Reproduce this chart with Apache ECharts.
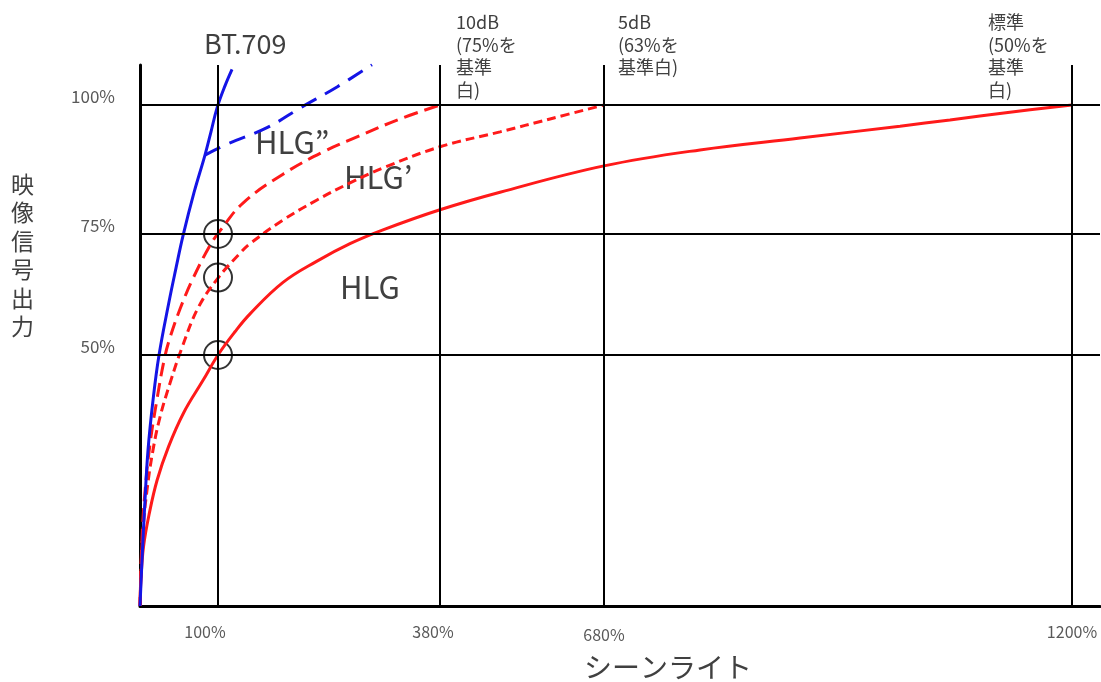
<!DOCTYPE html>
<html>
<head>
<meta charset="utf-8">
<script src="https://cdn.jsdelivr.net/npm/echarts@6/dist/echarts.min.js"></script>
<style>
  html, body { margin: 0; padding: 0; background: #fff; }
  #chart { width: 1101px; height: 682px; }
</style>
</head>
<body>
<div id="chart"></div>
<script>
// シーンライト(%) の目盛りと、図上の位置 (非線形の目盛り)
var xTicks = [100, 380, 680, 1200];
var xTickLabels = ['100%', '380%', '680%', '1200%'];
var xKnots = [0, 100, 380, 680, 1200];
var xKnotPos = [0, 78, 300, 464, 932];
// 映像信号出力(%) の目盛り
var yTicks = [50, 75, 100];
var yTickLabels = ['50%', '75%', '100%'];
var yKnots = [0, 50, 75, 100];
var yKnotPos = [0, 251, 372, 501];

// 各カーブ (シーンライト%, 信号出力%)
var hlgS = [0, 1.2, 4.5, 12, 22, 36.5, 56, 81, 100, 121.4, 140.4, 182, 224.9, 266.5, 308.1, 380, 489.8, 680, 786.7, 897.8, 1008.9, 1064.4, 1131, 1200];
var hlgV = [0, 5.2, 11.8, 18.5, 25.1, 31.7, 38.5, 45.0, 50, 54.8, 58.5, 65.0, 69.4, 73.0, 75.8, 79.7, 83.1, 88.2, 91.3, 93.6, 95.9, 97.1, 98.6, 100];

var hlg1S = [0, 1.3, 3.8, 9.0, 16.7, 25.6, 38.5, 53.8, 74.4, 100, 127.7, 140.4, 182, 224.9, 266.5, 308.1, 380, 489.8, 581.3, 680];
var hlg1V = [0, 7.2, 15.1, 23.1, 31.1, 37.6, 44.4, 51.5, 59.7, 65.9, 71.0, 73.0, 77.7, 81.6, 84.9, 87.8, 91.9, 94.8, 97.3, 100];

var hlg2S = [0, 2.6, 6.4, 12.8, 21.8, 31.6, 38.5, 51.3, 67.9, 89.7, 102.5, 131.5, 182, 232.4, 275.3, 329.5, 380];
var hlg2V = [0, 13.6, 22.8, 32.2, 41.2, 49.5, 53.6, 59.5, 65.8, 72.6, 75.6, 81.0, 86.6, 90.9, 93.8, 97.3, 100];

var bt709S = [0, 2.6, 6.4, 10.3, 16.7, 24.4, 37.2, 46.2, 55.1, 69.2, 83.3, 91.0, 98.7, 108.8, 117.7];
var bt709V = [0, 9.2, 21.1, 31.1, 41.0, 50, 61.0, 68.0, 74.6, 83.0, 90.3, 94.8, 99.4, 103.7, 106.9];

var kneeS = [83.3, 111.4, 161.8, 203.4, 250.1, 294.2];
var kneeV = [90.3, 92.4, 95.6, 99.4, 103.5, 107.8];

var circleS = [100, 100, 100];
var circleV = [75, 66, 50];

// 区分線形の目盛り変換
function piece(v, knots, pos) {
    var n = knots.length;
    for (var i = 1; i < n; i++) {
        if (v <= knots[i] || i == n - 1) {
            return pos[i - 1] + (v - knots[i - 1]) / (knots[i] - knots[i - 1]) * (pos[i] - pos[i - 1]);
        }
    }
}
function toX(s) { return piece(s, xKnots, xKnotPos); }
function toY(v) { return piece(v, yKnots, yKnotPos); }

function pts(sArr, vArr) {
    var out = [];
    for (var i = 0; i < sArr.length; i++) out.push([toX(sArr[i]), toY(vArr[i])]);
    return out;
}
function indexOf(val, ticks, fn) {
    for (var i = 0; i < ticks.length; i++) {
        if (Math.abs(fn(ticks[i]) - val) < 0.5) return i;
    }
    return -1;
}

var myChart = echarts.init(document.getElementById('chart'));
var red = '#ff1a1a';
var blue = '#1414e6';
var textColor = '#404040';
var font = '"Noto Sans CJK JP", "Noto Sans", sans-serif';
// x目盛りラベルの微調整用スタイル
var xRich = ['a', 'b', 'c', 'd'];

var option = {
    animation: false,
    grid: { left: 140, top: 65, width: 960, height: 541 },
    xAxis: {
        type: 'value', min: 0, max: 960,
        axisLine: { show: true, lineStyle: { color: '#000', width: 3 } },
        axisTick: { show: false },
        splitLine: { show: false },
        axisLabel: {
            customValues: xTicks.map(toX),
            margin: 18,
            color: '#595959', fontSize: 16, fontFamily: font,
            rich: {
                a: { color: '#595959', fontSize: 16, fontFamily: font, padding: [0, 26, 0, 0] },
                b: { color: '#595959', fontSize: 16, fontFamily: font, padding: [0, 14, 0, 0] },
                c: { color: '#595959', fontSize: 16, fontFamily: font, padding: [3, 0, 0, 0] },
                d: { color: '#595959', fontSize: 16, fontFamily: font }
            },
            formatter: function (val) {
                var i = indexOf(val, xTicks, toX);
                return i < 0 ? '' : '{' + xRich[i] + '|' + xTickLabels[i] + '}';
            }
        }
    },
    yAxis: {
        type: 'value', min: 0, max: 541,
        axisLine: { show: true, lineStyle: { color: '#000', width: 3 } },
        axisTick: { show: false },
        splitLine: { show: false },
        axisLabel: {
            customValues: yTicks.map(toY),
            margin: 25,
            verticalAlign: 'bottom',
            color: '#595959', fontSize: 17, fontFamily: font,
            formatter: function (val) {
                var i = indexOf(val, yTicks, toY);
                return i < 0 ? '' : yTickLabels[i];
            }
        }
    },
    graphic: [
        { type: 'text', left: 11, top: 170, style: { text: '映\n像\n信\n号\n出\n力', fill: textColor, font: '23px ' + font, lineHeight: 28.5 } },
        { type: 'text', left: 584, top: 653, style: { text: 'シーンライト', fill: textColor, font: '28px ' + font } },
        { type: 'text', left: 204, top: 30, style: { text: 'BT.709', fill: textColor, font: '27px ' + font } },
        { type: 'text', left: 255, top: 127, style: { text: 'HLG”', fill: textColor, font: '31px ' + font } },
        { type: 'text', left: 344, top: 162, style: { text: 'HLG’', fill: textColor, font: '31px ' + font } },
        { type: 'text', left: 340, top: 272, style: { text: 'HLG', fill: textColor, font: '31px ' + font } },
        { type: 'text', left: 456, top: 11, style: { text: '10dB\n(75%を\n基準\n白)', fill: textColor, font: '18px ' + font, lineHeight: 22.5 } },
        { type: 'text', left: 618, top: 11, style: { text: '5dB\n(63%を\n基準白)', fill: textColor, font: '18px ' + font, lineHeight: 22.5 } },
        { type: 'text', left: 988, top: 11, style: { text: '標準\n(50%を\n基準\n白)', fill: textColor, font: '18px ' + font, lineHeight: 22.5 } }
    ],
    series: [
        {
            name: 'grid', type: 'line', data: [], silent: true,
            markLine: {
                silent: true, symbol: 'none', label: { show: false },
                lineStyle: { color: '#000', width: 2, type: 'solid' },
                data: xTicks.map(function (s) { return { xAxis: toX(s) }; })
                    .concat(yTicks.map(function (v) { return { yAxis: toY(v) }; }))
            }
        },
        {
            name: 'HLG', type: 'line', smooth: 0.4, showSymbol: false,
            lineStyle: { color: red, width: 3 },
            data: pts(hlgS, hlgV)
        },
        {
            name: 'HLG’', type: 'line', smooth: 0.4, showSymbol: false,
            lineStyle: { color: red, width: 3, type: [9, 5] },
            data: pts(hlg1S, hlg1V)
        },
        {
            name: 'HLG”', type: 'line', smooth: 0.4, showSymbol: false,
            lineStyle: { color: red, width: 3, type: [14, 7] },
            data: pts(hlg2S, hlg2V)
        },
        {
            name: 'BT.709', type: 'line', smooth: 0.4, showSymbol: false,
            lineStyle: { color: blue, width: 3 },
            data: pts(bt709S, bt709V)
        },
        {
            name: 'knee', type: 'line', smooth: 0.4, showSymbol: false,
            lineStyle: { color: blue, width: 3, type: [17, 10] },
            data: pts(kneeS, kneeV)
        },
        {
            name: 'circle', type: 'scatter', symbol: 'circle', symbolSize: 28,
            itemStyle: { color: 'rgba(0,0,0,0)', borderColor: '#000', borderWidth: 2 },
            data: pts(circleS, circleV)
        }
    ]
};
myChart.setOption(option);
</script>
</body>
</html>
